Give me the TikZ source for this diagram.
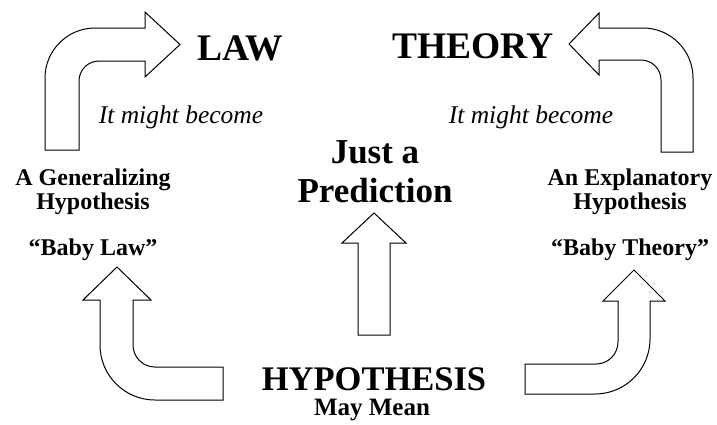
\documentclass[tikz,border=0pt]{standalone}
\usepackage{fontspec}
\setmainfont{Liberation Serif}
\usepackage{tikz}
\usetikzlibrary{positioning}

\begin{document}
\begin{tikzpicture}[x=1pt, y=-1pt,
  bigword/.style={font=\fontsize{37.5}{40}\selectfont\bfseries, inner sep=0pt, anchor=base},
  midword/.style={font=\fontsize{35}{36}\selectfont\bfseries, inner sep=0pt, anchor=base},
  note/.style={font=\fontsize{24}{26}\selectfont\bfseries, inner sep=0pt, anchor=base},
  maybe/.style={font=\fontsize{25.5}{26}\selectfont\itshape, inner sep=0pt, anchor=base},
  bent/.style={draw=black, line width=1pt, fill=white, line join=miter}
]
\useasboundingbox (0,0) rectangle (717,424);

% words
\node[bigword] (law) at (240,60) {LAW};
\node[bigword] (theory) at (473,58) {THEORY};
\node[maybe] (might1) at (181,123) {It might become};
\node[maybe] (might2) at (531,123) {It might become};
\node[midword] (just) at (375,163) {Just a};
\node[midword] (pred) at (375,202) {Prediction};
\node[note] (gen) at (93,185) {A Generalizing};
\node[note] (genh) at (93,209) {Hypothesis};
\node[note] (babylaw) at (93,255) {“Baby Law”};
\node[note] (expl) at (630,185) {An Explanatory};
\node[note] (explh) at (630,209) {Hypothesis};
\node[note] (babytheory) at (630,255) {“Baby Theory”};
\node[bigword, font=\fontsize{34.5}{36}\selectfont\bfseries] (hyp) at (374,390) {HYPOTHESIS};
\node[note, font=\fontsize{25}{26}\selectfont\bfseries] (maymean) at (372,415) {May Mean};

% bent arrows
\draw[bent] (45,150) -- (45,78) arc[start angle=180, end angle=270, radius=50]
  -- (145,28) -- (145,12) -- (180,44.5) -- (145,77) -- (145,61) -- (99,61)
  arc[start angle=270, end angle=180, radius=20] -- (79,150) -- cycle;
\draw[bent] (693,152) -- (693,78) arc[start angle=0, end angle=-90, radius=50]
  -- (599,28) -- (599,13) -- (569,44) -- (599,75) -- (599,60) -- (641,60)
  arc[start angle=-90, end angle=0, radius=20] -- (661,152) -- cycle;
\draw[bent] (117,267) -- (151,300) -- (133,300) -- (133,345)
  arc[start angle=180, end angle=90, radius=22] -- (223,367) -- (223,400) -- (155,400)
  arc[start angle=90, end angle=180, radius=55] -- (100,300) -- (83,300) -- cycle;
\draw[bent] (634,270) -- (665,301) -- (650,301) -- (650,339)
  arc[start angle=0, end angle=90, radius=55] -- (525,394) -- (525,364) -- (596,364)
  arc[start angle=90, end angle=0, radius=22] -- (618,301) -- (603,301) -- cycle;
\draw[bent] (374,213) -- (406,243) -- (390,243) -- (390,335) -- (358,335) -- (358,243)
  -- (342,243) -- cycle;
\end{tikzpicture}
\end{document}
